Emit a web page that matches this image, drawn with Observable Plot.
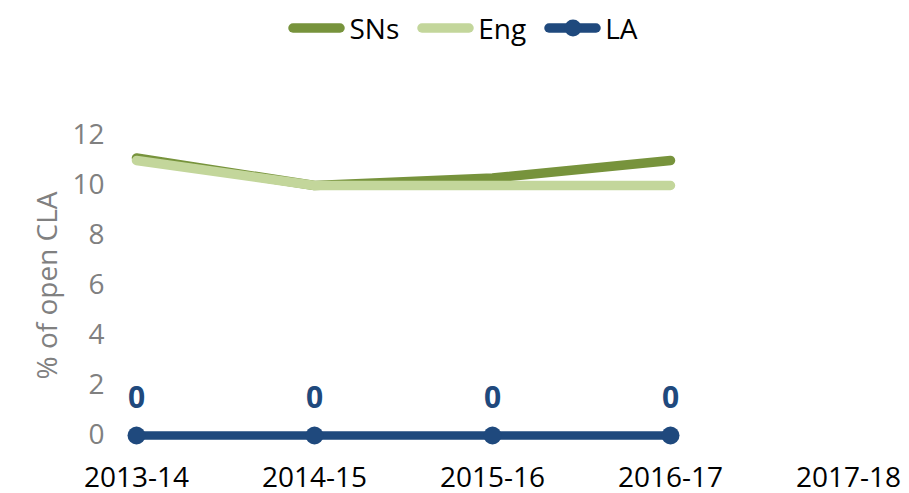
<!DOCTYPE html>
<html><head><meta charset="utf-8">
<script src="https://cdn.jsdelivr.net/npm/d3@7"></script>
<script src="https://cdn.jsdelivr.net/npm/@observablehq/plot@0.6"></script>
<style>
body{margin:0;background:#fff;font-family:"Open Sans",sans-serif;}
#legend{height:55px;display:flex;justify-content:center;align-items:center;padding-left:17px;box-sizing:border-box;width:909px;font-size:28px;color:#000;}
.item{display:flex;align-items:center;margin:0 9px;}
.item svg{margin-right:4px;}
</style></head><body>
<div id="legend"></div><div id="chart"></div>
<script>
const years = ["2013-14","2014-15","2015-16","2016-17","2017-18"];
const snsValues = [11.1, 10.0, 10.3, 11.0];
const engValues = [11.0, 10.0, 10.0, 10.0];
const laValues = [0, 0, 0, 0];
const seriesNames = ["SNs","Eng","LA"];
const seriesColors = ["#77933C","#C3D69B","#1F497D"];
const yTicks = [0,2,4,6,8,10,12];

const toRows = (vals) => vals.map((v,i)=>({year: years[i], value: v}));
const sns = toRows(snsValues), eng = toRows(engValues), la = toRows(laValues);

// legend
const legend = document.getElementById("legend");
seriesNames.forEach((name,i)=>{
  const it = document.createElement("div"); it.className="item";
  const marker = name === "LA" ? `<circle cx="29" cy="10" r="8.5" fill="${seriesColors[i]}"/>` : "";
  it.innerHTML = `<svg width="57" height="20"><line x1="5" x2="52" y1="10" y2="10" stroke="${seriesColors[i]}" stroke-width="9.5" stroke-linecap="round"/>${marker}</svg><span>${name}</span>`;
  legend.appendChild(it);
});

const plot = Plot.plot({
  width: 909, height: 438,
  marginLeft: 135, marginRight: 61, marginTop: 80, marginBottom: 58,
  style: {fontFamily: "Open Sans", fontSize: "28px", background: "white", overflow: "visible"},
  x: {type: "point", domain: years, padding: 0},
  y: {domain: [0, 12]},
  marks: [
    Plot.axisX({tickSize: 0, tickPadding: 32, fill: "#000", label: null}),
    Plot.axisY({ticks: yTicks, tickSize: 0, tickPadding: 31, fill: "#808080", label: "% of open CLA", labelAnchor: "center", labelOffset: 98, labelArrow: "none"}),
    Plot.line(sns, {x: "year", y: "value", stroke: seriesColors[0], strokeWidth: 9.5, strokeLinecap: "round"}),
    Plot.line(eng, {x: "year", y: "value", stroke: seriesColors[1], strokeWidth: 9.5, strokeLinecap: "round"}),
    Plot.line(la, {x: "year", y: "value", stroke: seriesColors[2], strokeWidth: 8.5}),
    Plot.dot(la, {x: "year", y: "value", r: 9, fill: seriesColors[2], stroke: null}),
    Plot.text(la, {x: "year", y: "value", text: d => String(d.value), dy: -37, fill: seriesColors[2], fontWeight: "bold", fontSize: 30})
  ]
});
document.getElementById("chart").appendChild(plot);
</script>
</body></html>
